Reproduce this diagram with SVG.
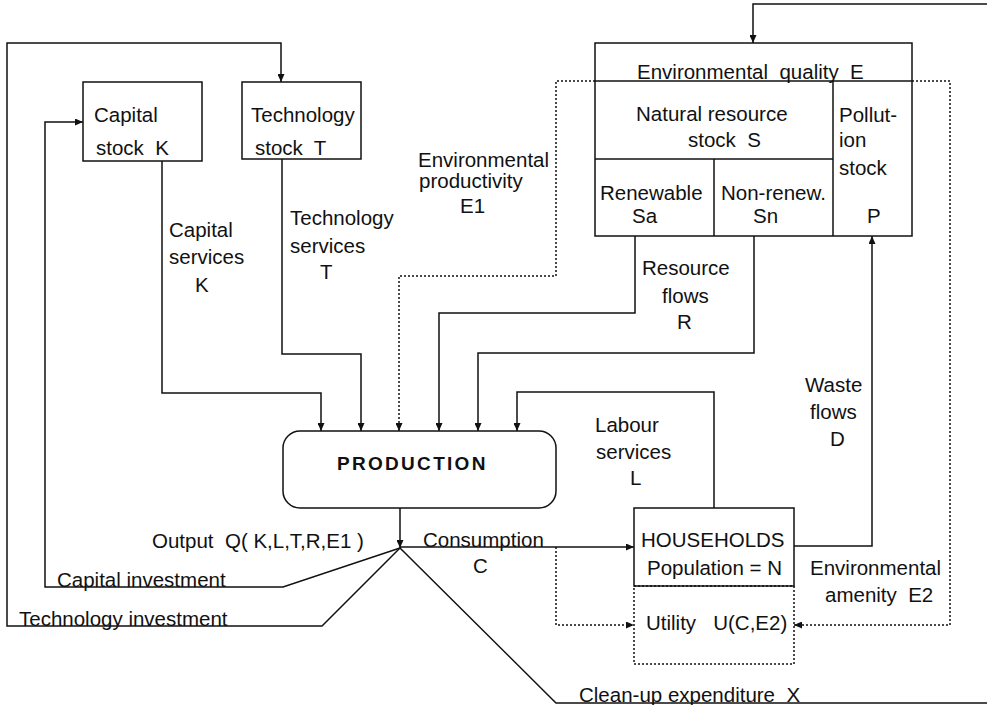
<svg xmlns="http://www.w3.org/2000/svg" width="987" height="705" viewBox="0 0 987 705" xml:space="preserve">
  <defs>
    <marker id="arrow" viewBox="0 0 8 7" refX="8" refY="3.5" markerWidth="8" markerHeight="7" markerUnits="userSpaceOnUse" orient="auto">
      <path d="M0,0 L8,3.5 L0,7 z" fill="#111"/>
    </marker>
    <style>
      .box { fill: none; stroke: #111; stroke-width: 1.5; }
      .dot { fill: none; stroke: #111; stroke-width: 1.5; stroke-dasharray: 2 2; }
      .ln { fill: none; stroke: #111; stroke-width: 1.5; }
      .arr { marker-end: url(#arrow); }
      text { font-family: "Liberation Sans", Arial, sans-serif; font-size: 20.5px; fill: #111; white-space: pre; }
      .bold { font-weight: bold; font-size: 19px; letter-spacing: 2.3px; }
    </style>
  </defs>
  <rect width="987" height="705" fill="#fff"/>

  <!-- connectors -->
  <g id="connectors">
    <!-- technology investment loop -->
    <polyline class="ln arr" points="400,548 322,626 7,626 7,43 281,43 281,82"/>
    <!-- capital investment loop -->
    <polyline class="ln arr" points="400,548 283,587 45,587 45,122 83,122"/>
    <!-- capital services -->
    <polyline class="ln arr" points="162,161 162,393 321,393 321,431"/>
    <!-- technology services -->
    <polyline class="ln arr" points="282,159 282,354 361,354 361,431"/>
    <!-- environmental productivity (dotted) -->
    <polyline class="dot arr" points="595,81 556,81 556,276 399,276 399,431"/>
    <!-- resource flows -->
    <polyline class="ln arr" points="635,236 635,313 439,313 439,431"/>
    <polyline class="ln arr" points="754,236 754,353 478,353 478,431"/>
    <!-- labour services -->
    <polyline class="ln arr" points="714,508 714,392 517,392 517,431"/>
    <!-- output -->
    <polyline class="ln arr" points="400,508 400,548"/>
    <!-- consumption -->
    <polyline class="ln arr" points="400,547 634,547"/>
    <polyline class="dot arr" points="556,547 556,625 634,625"/>
    <!-- waste flows -->
    <polyline class="ln arr" points="794,546 872,546 872,236"/>
    <!-- environmental amenity (dotted) -->
    <polyline class="dot arr" points="912,81 950,81 950,625 794,625"/>
    <!-- clean-up expenditure -->
    <polyline class="ln" points="400,548 556,703 987,703"/>
    <!-- return into environmental quality -->
    <polyline class="ln arr" points="987,4 753,4 753,43"/>
  </g>

  <!-- stocks -->
  <g id="capital-stock">
    <rect class="box" x="83" y="82" width="119" height="79"/>
    <text x="94" y="122">Capital</text>
    <text x="96" y="155">stock  K</text>
  </g>
  <g id="technology-stock">
    <rect class="box" x="242" y="82" width="119" height="77"/>
    <text x="251" y="122">Technology</text>
    <text x="255" y="155">stock  T</text>
  </g>

  <g id="environment">
    <rect class="box" x="595" y="43" width="317" height="193"/>
    <line class="ln" x1="595" y1="81" x2="912" y2="81"/>
    <line class="ln" x1="833" y1="81" x2="833" y2="236"/>
    <line class="ln" x1="595" y1="159" x2="833" y2="159"/>
    <line class="ln" x1="714" y1="159" x2="714" y2="236"/>
    <text x="637" y="79">Environmental  quality  E</text>
    <text x="636" y="121">Natural resource</text>
    <text x="688" y="147">stock  S</text>
    <text x="600" y="200">Renewable</text>
    <text x="632" y="223">Sa</text>
    <text x="721" y="200">Non-renew.</text>
    <text x="753" y="223">Sn</text>
    <text x="839" y="122">Pollut-</text>
    <text x="839" y="147">ion</text>
    <text x="839" y="175">stock</text>
    <text x="867" y="223">P</text>
  </g>

  <g id="production">
    <rect class="box" x="283" y="431" width="273" height="77" rx="17" ry="17"/>
    <text class="bold" x="337" y="470">PRODUCTION</text>
  </g>

  <g id="households">
    <rect class="box" x="634" y="508" width="160" height="78"/>
    <text x="641" y="547">HOUSEHOLDS</text>
    <text x="647" y="575">Population = N</text>
  </g>
  <g id="utility">
    <rect class="dot" x="634" y="586" width="160" height="78"/>
    <text x="646" y="630">Utility   U(C,E2)</text>
  </g>

  <!-- connector labels -->
  <g id="labels">
    <text x="169" y="237">Capital</text>
    <text x="169" y="264">services</text>
    <text x="195" y="292">K</text>
    <text x="290" y="225">Technology</text>
    <text x="290" y="253">services</text>
    <text x="320" y="279">T</text>
    <text x="418" y="167">Environmental</text>
    <text x="419" y="188">productivity</text>
    <text x="460" y="213">E1</text>
    <text x="642" y="275">Resource</text>
    <text x="662" y="303">flows</text>
    <text x="677" y="329">R</text>
    <text x="805" y="392">Waste</text>
    <text x="810" y="419">flows</text>
    <text x="830" y="446">D</text>
    <text x="595" y="432">Labour</text>
    <text x="596" y="459">services</text>
    <text x="630" y="485">L</text>
    <text x="152" y="548">Output  Q( K,L,T,R,E1 )</text>
    <text x="423" y="547">Consumption</text>
    <text x="473" y="573">C</text>
    <text x="57" y="587">Capital investment</text>
    <text x="19" y="626">Technology investment</text>
    <text x="810" y="575">Environmental</text>
    <text x="825" y="602">amenity  E2</text>
    <text x="579" y="702">Clean-up expenditure  X</text>
  </g>
</svg>
